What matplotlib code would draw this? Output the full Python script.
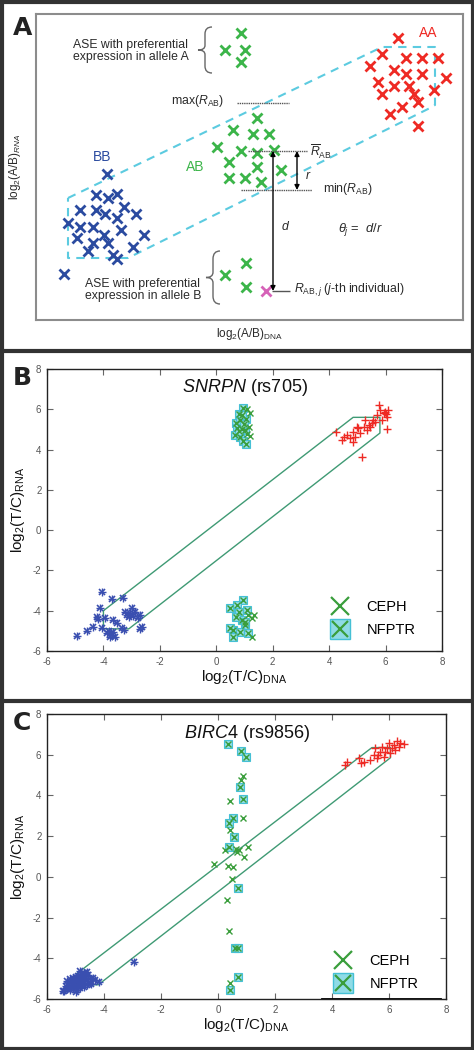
import matplotlib
matplotlib.use("Agg")
import matplotlib.pyplot as plt
from matplotlib.lines import Line2D
from matplotlib.path import Path
from matplotlib.patches import PathPatch
from matplotlib.legend_handler import HandlerTuple

plt.rcParams['font.family'] = ['Liberation Sans', 'DejaVu Sans']
plt.rcParams['mathtext.fontset'] = 'custom'
plt.rcParams['mathtext.rm'] = 'Liberation Sans'
plt.rcParams['mathtext.it'] = 'Liberation Sans:italic'
plt.rcParams['mathtext.bf'] = 'Liberation Sans:bold'
plt.rcParams['axes.unicode_minus'] = False

# ---------------- Panel A (schematic, picture coordinates) ----------------
A_top_x = [241, 225, 245, 241]
A_top_y = [33, 50, 50, 62]
A_aa_x = [398, 382, 370, 406, 422, 438, 394, 406, 422, 446, 378, 394, 409, 382, 414, 434, 418, 402, 390, 418]
A_aa_y = [38, 54, 66, 58, 58, 58, 70, 74, 74, 78, 82, 86, 86, 94, 94, 90, 102, 107, 114, 126]
A_bb_x = [107, 96, 108, 117, 80, 96, 105, 124, 136, 68, 80, 93, 117, 121, 77, 104, 93, 108, 88, 144, 133, 113, 117, 64]
A_bb_y = [174, 195, 198, 194, 210, 210, 214, 207, 214, 223, 227, 227, 218, 230, 238, 235, 243, 243, 251, 235, 247, 255, 259, 274]
A_ab_x = [257, 233, 253, 269, 217, 241, 274, 257, 229, 257, 281, 229, 245, 261]
A_ab_y = [118, 130, 134, 134, 147, 151, 150, 153, 162, 167, 170, 178, 178, 182]
A_low_x = [246, 225, 246]
A_low_y = [263, 275, 287]
A_j_x = [266]
A_j_y = [291]
A_hull_x = [68, 382, 435, 435, 430, 128, 68, 68]
A_hull_y = [198, 47, 47, 105, 108, 258, 258, 198]
A_max_y, A_mean_y, A_min_y = 103, 151, 190

# ---------------- Panel B : SNRPN (rs705) ----------------
B_bb_x = [-4.06, -3.71, -3.32, -4.12, -4.24, -4.18, -3.94, -3.65, -3.53, -4.36, -4.59, -4.93, -4.06, -3.88,
          -3.77, -3.65, -3.35, -3.23, -3.17, -3.00, -2.88, -2.70, -2.76, -2.64, -2.70, -3.10, -3.05, -2.95,
          -3.70, -3.80, -3.60, -3.28]
B_bb_y = [-3.09, -3.44, -3.39, -3.85, -4.33, -4.40, -4.38, -4.46, -4.63, -4.80, -5.01, -5.26, -4.88, -5.12,
          -5.29, -5.04, -4.88, -4.05, -4.21, -3.88, -4.05, -4.21, -4.38, -4.80, -4.93, -4.30, -4.10, -4.25,
          -5.20, -5.00, -5.30, -4.95]
B_aa_x = [4.25, 4.45, 4.63, 4.74, 4.86, 4.92, 5.04, 5.10, 5.22, 5.28, 5.34, 5.45, 5.57, 5.69, 5.75, 5.81,
          5.87, 5.93, 5.99, 6.05, 6.10, 6.05, 5.16, 4.51, 4.86, 4.98, 5.51, 5.40, 5.62, 6.00]
B_aa_y = [4.89, 4.47, 4.72, 4.56, 4.89, 4.64, 5.06, 4.81, 5.13, 5.47, 4.97, 5.13, 5.47, 5.72, 6.21, 5.96,
          5.47, 5.80, 5.88, 5.60, 5.96, 5.00, 3.62, 4.64, 4.39, 5.13, 5.30, 5.20, 5.35, 5.75]
B_ab_x = [0.95, 1.10, 0.80, 1.20, 0.70, 0.85, 1.05, 0.75, 0.90, 1.15, 1.00, 0.65, 0.85, 1.20, 0.95, 1.05,
          0.80, 1.10, 0.90, 0.98,
          0.49, 0.96, 0.73, 1.14, 1.26, 1.02, 0.61, 0.85, 1.14, 1.26, 0.61, 0.49, 1.32, 0.79, 1.08, 0.90,
          0.70, 1.00]
B_ab_y = [6.05, 6.00, 5.75, 5.80, 5.30, 5.45, 5.50, 5.05, 5.00, 5.10, 4.95, 4.70, 4.60, 4.65, 4.45, 4.30,
          4.90, 4.75, 5.70, 5.25,
          -3.88, -3.47, -3.72, -4.21, -4.38, -4.71, -4.96, -5.04, -5.12, -5.29, -5.29, -4.88, -4.20, -4.05,
          -3.96, -4.46, -4.30, -4.55]
B_nf_x = [0.95, 0.80, 0.70, 0.85, 1.05, 0.75, 0.90, 1.00, 0.65, 0.85, 0.95, 1.05, 0.80, 0.90, 0.98,
          0.49, 0.96, 0.73, 1.02, 0.61, 0.85, 1.14, 0.61, 0.49, 0.79, 1.08, 0.90, 0.70, 1.00]
B_nf_y = [6.05, 5.75, 5.30, 5.45, 5.50, 5.05, 5.00, 4.95, 4.70, 4.60, 4.45, 4.30, 4.90, 5.70, 5.25,
          -3.88, -3.47, -3.72, -4.71, -4.96, -5.04, -5.12, -5.29, -4.88, -4.05, -3.96, -4.46, -4.30, -4.55]
B_hull_x = [-4.0, 4.85, 5.8, 5.8, -3.1, -4.0, -4.0]
B_hull_y = [-4.0, 5.6, 5.6, 4.82, -4.9, -4.9, -4.0]

# ---------------- Panel C : BIRC4 (rs9856) ----------------
C_bb_x = [-5.40, -5.30, -5.20, -5.10, -5.00, -4.90, -4.80, -4.70, -4.60, -4.50, -4.40, -5.35, -5.25, -5.15,
          -5.05, -4.95, -4.85, -4.75, -4.65, -4.55, -5.30, -5.20, -5.10, -5.00, -4.90, -4.80, -4.70, -4.60,
          -4.50, -5.20, -5.10, -4.95, -4.85, -4.70, -4.60, -4.75, -4.65, -4.19, -2.96, -4.45, -4.30, -5.45,
          -5.00, -4.85]
C_bb_y = [-5.60, -5.50, -5.55, -5.45, -5.40, -5.35, -5.25, -5.20, -5.10, -5.00, -4.95, -5.35, -5.30, -5.20,
          -5.15, -5.10, -5.05, -4.95, -4.85, -4.80, -5.10, -5.00, -4.95, -4.90, -4.85, -4.75, -4.70, -4.65,
          -5.20, -5.45, -5.35, -5.55, -5.45, -5.40, -5.30, -5.05, -4.95, -5.15, -4.17, -5.25, -5.05, -5.60,
          -5.65, -4.60]
C_aa_x = [4.47, 4.53, 4.93, 5.11, 5.00, 5.46, 5.69, 5.93, 6.16, 6.40, 6.51, 6.28, 5.81, 5.57, 6.05, 5.75,
          5.52, 5.99, 6.22, 5.34, 5.63, 5.87, 6.10, 6.34]
C_aa_y = [5.49, 5.66, 5.82, 5.66, 5.60, 5.99, 6.15, 6.32, 6.49, 6.57, 6.52, 6.65, 5.91, 5.82, 6.07, 6.40,
          6.32, 6.57, 6.24, 5.74, 5.99, 6.15, 6.32, 6.40]
C_ab_x = [0.34, 0.81, 0.98, 0.78, 0.86, 0.53, 0.37, 0.55, 0.37, 0.81, 0.86, 0.43, 0.88, 0.43, 0.26, 0.67,
          0.72, 1.07, 0.90, -0.15, 0.35, 0.51, 0.49, 0.69, 0.32, 0.37, 0.58, 0.69, 0.69, 0.43, 0.43, 0.62]
C_ab_y = [6.51, 6.20, 5.87, 4.43, 3.81, 2.91, 2.66, 1.97, 1.48, 4.76, 4.95, 3.74, 2.88, 2.30, 1.32, 1.24,
          1.30, 1.48, 0.99, 0.63, 0.53, 0.50, -0.12, -0.56, -1.14, -2.66, -3.51, -3.48, -4.90, -5.23, -5.56,
          1.35]
C_nf_x = [0.34, 0.81, 0.98, 0.78, 0.86, 0.53, 0.37, 0.55, 0.37, 0.69, 0.58, 0.69, 0.69, 0.43]
C_nf_y = [6.51, 6.20, 5.87, 4.43, 3.81, 2.91, 2.66, 1.97, 1.48, -0.56, -3.51, -3.48, -4.90, -5.56]
C_hull_x = [-4.95, 5.4, 6.05, 6.05, -4.2, -4.95, -4.95]
C_hull_y = [-4.75, 6.35, 6.35, 5.85, -5.3, -5.3, -4.75]

ticks = [-6, -4, -2, 0, 2, 4, 6, 8]
labels = ['CEPH', 'NFPTR']

# ---------------- colours ----------------
GREEN_A = '#3cb54a'
RED = '#ee2a24'
BLUE_A = '#2b4ba0'
CYAN = '#5ccbe0'
MAG = '#d662b8'
GREEN = '#3a9e3c'
SQ_FACE = '#8fdbe6'
SQ_EDGE = '#45c0d5'
HULL = '#3f9a74'
BLUE = '#3a4fb0'
TXT = '#2a2a2a'
LETTER_FONT = ['Liberation Sans Narrow', 'DejaVu Sans']

W, H = 474, 1050
fig = plt.figure(figsize=(W / 100, H / 100), dpi=100)


def rect(x0, y0, x1, y1):
    return [x0 / W, 1 - y1 / H, (x1 - x0) / W, (y1 - y0) / H]


def fig_line(x0, y0, x1, y1, lw=3, color='#333333'):
    fig.add_artist(Line2D([x0 / W, x1 / W], [1 - y0 / H, 1 - y1 / H], lw=lw, color=color,
                          transform=fig.transFigure, solid_capstyle='butt'))


# outer frame and separators
fig_line(1.5, 0, 1.5, H)
fig_line(W - 1.5, 0, W - 1.5, H)
fig_line(0, 1.5, W, 1.5)
fig_line(0, H - 1.5, W, H - 1.5)
fig_line(0, 350.5, W, 350.5)
fig_line(0, 700.5, W, 700.5)

# ---------------- Panel A ----------------
axA = fig.add_axes(rect(36, 14, 463, 320))
axA.set_xlim(36, 463)
axA.set_ylim(320, 14)
axA.set_xticks([])
axA.set_yticks([])
for s in axA.spines.values():
    s.set_color('#8c8c8c')
    s.set_linewidth(1.5)

mk = dict(marker='x', ls='none', ms=6.5, mew=2)
axA.plot(A_hull_x, A_hull_y, color=CYAN, lw=1.5, ls=(0, (4, 3)))
axA.plot(A_top_x, A_top_y, color=GREEN_A, **mk)
axA.plot(A_aa_x, A_aa_y, color=RED, **mk)
axA.plot(A_bb_x, A_bb_y, color=BLUE_A, **mk)
axA.plot(A_ab_x, A_ab_y, color=GREEN_A, **mk)
axA.plot(A_low_x, A_low_y, color=GREEN_A, **mk)
axA.plot(A_j_x, A_j_y, color=MAG, **mk)

axA.text(428, 33, 'AA', color=RED, fontsize=10, ha='center', va='center')
axA.text(102, 157, 'BB', color=BLUE_A, fontsize=10, ha='center', va='center')
axA.text(195, 167, 'AB', color=GREEN_A, fontsize=10, ha='center', va='center')

# reference lines
axA.hlines(A_max_y, 237, 289, color='#555555', lw=1, ls=(0, (1, 0.6)))
axA.hlines(A_mean_y, 248, 307, color='#555555', lw=1, ls=(0, (1, 0.6)))
axA.hlines(A_min_y, 241, 312, color='#555555', lw=1, ls=(0, (1, 0.6)))
axA.hlines(A_j_y[0], A_j_x[0] + 6, 290, color='#555555', lw=1)
axA.annotate('', xy=(297, A_mean_y), xytext=(297, A_min_y),
             arrowprops=dict(arrowstyle='<|-|>', color='black', lw=1, mutation_scale=7, shrinkA=0, shrinkB=0))
axA.annotate('', xy=(273, A_mean_y), xytext=(273, A_j_y[0]),
             arrowprops=dict(arrowstyle='<|-|>', color='black', lw=1, mutation_scale=7, shrinkA=0, shrinkB=0))

fsA = 8.8
axA.text(224, 101, r'max($R_{\mathrm{AB}}$)', fontsize=fsA, ha='right', va='center', color=TXT)
axA.text(310, 152, r'$\overline{R}_{\mathrm{AB}}$', fontsize=fsA, ha='left', va='center', color=TXT)
axA.text(323, 189, r'min($R_{\mathrm{AB}}$)', fontsize=fsA, ha='left', va='center', color=TXT)
axA.text(308, 176, r'$r$', fontsize=fsA, ha='center', va='center', color=TXT)
axA.text(286, 226, r'$d$', fontsize=fsA, ha='center', va='center', color=TXT)
axA.text(338, 230, r'$\theta_j$ =  $d/r$', fontsize=fsA + 0.5, ha='left', va='center', color=TXT)
axA.text(294, 290, r'$R_{\mathrm{AB},j}$ ($j$-th individual)', fontsize=fsA, ha='left', va='center', color=TXT)
axA.text(73, 51, 'ASE with preferential\nexpression in allele A', fontsize=fsA, ha='left', va='center',
         color=TXT, linespacing=1.1)
axA.text(85, 290, 'ASE with preferential\nexpression in allele B', fontsize=fsA, ha='left', va='center',
         color=TXT, linespacing=1.1)


def brace(ax, xtip, y0, y1, w):
    ym = (y0 + y1) / 2
    h = y1 - y0
    xm = xtip + w / 2
    verts = [(xtip + w, y0), (xm, y0), (xm, y0 + h * 0.15),
             (xm, ym - h * 0.1),
             (xm, ym), (xtip, ym),
             (xm, ym), (xm, ym + h * 0.1),
             (xm, y1 - h * 0.15),
             (xm, y1), (xtip + w, y1)]
    codes = [Path.MOVETO, Path.CURVE3, Path.CURVE3, Path.LINETO, Path.CURVE3, Path.CURVE3,
             Path.CURVE3, Path.CURVE3, Path.LINETO, Path.CURVE3, Path.CURVE3]
    ax.add_patch(PathPatch(Path(verts, codes), fill=False, color='#666666', lw=1))


brace(axA, 198, 27, 73, 14)
brace(axA, 206, 251, 304, 14)

axA.set_xlabel(r'log$_2$(A/B)$_{\mathrm{DNA}}$', fontsize=8.5, color=TXT, labelpad=4)
axA.set_ylabel(r'log$_2$(A/B)$_{RNA}$', fontsize=8.5, color=TXT, labelpad=9)
fig.text(13 / W, 1 - 28 / H, 'A', fontsize=18, fontweight='bold', ha='left', va='center',
         family=LETTER_FONT, color='#222222')


# ---------------- Panels B and C ----------------
def scatter_panel(ax, bb_x, bb_y, aa_x, aa_y, ab_x, ab_y, nf_x, nf_y, hull_x, hull_y, title_it, title_rest,
                  letter, letter_y, leg_y):
    ax.set_xlim(-6, 8)
    ax.set_ylim(-6, 8)
    ax.plot(hull_x, hull_y, color=HULL, lw=1.0, zorder=2)
    ax.plot(nf_x, nf_y, ls='none', marker='s', ms=6, mfc=SQ_FACE, mec=SQ_EDGE, mew=0.8, zorder=3)
    ax.plot(ab_x, ab_y, ls='none', marker='x', ms=5, mew=1.0, color=GREEN, zorder=4)
    ax.plot(bb_x, bb_y, ls='none', marker='x', ms=5, mew=1.2, color=BLUE, zorder=4)
    ax.plot(bb_x, bb_y, ls='none', marker='+', ms=6, mew=1.0, color=BLUE, zorder=4)
    ax.plot(aa_x, aa_y, ls='none', marker='+', ms=6, mew=1.0, color=RED, zorder=4)
    ax.set_xticks(ticks)
    ax.set_yticks(ticks)
    ax.tick_params(direction='in', length=4, width=0.8, colors='#666666', labelsize=7, top=True, right=True,
                   pad=4)
    for lab in ax.get_xticklabels() + ax.get_yticklabels():
        lab.set_color('#555555')
    for s in ax.spines.values():
        s.set_color('#222222')
        s.set_linewidth(1.0)
    ax.text(0.5, 0.933, r'$\mathit{' + title_it + '}$ ' + title_rest, transform=ax.transAxes, fontsize=13,
            ha='center', va='center', color='#111111')
    ax.set_xlabel(r'log$_2$(T/C)$_{\mathrm{DNA}}$', fontsize=11, color='#111111', labelpad=1)
    ax.set_ylabel(r'log$_2$(T/C)$_{\mathrm{RNA}}$', fontsize=11, color='#111111', labelpad=4)
    h1 = Line2D([], [], ls='none', marker='x', ms=13, mew=1.6, color=GREEN)
    h2a = Line2D([], [], ls='none', marker='s', ms=14, mfc=SQ_FACE, mec=SQ_EDGE, mew=1.0)
    h2b = Line2D([], [], ls='none', marker='x', ms=12, mew=1.6, color=GREEN)
    ax.legend([h1, (h2a, h2b)], labels, handler_map={tuple: HandlerTuple(ndivide=1)},
              loc='center left', bbox_to_anchor=(0.695, leg_y), frameon=False, fontsize=10.5,
              handlelength=1.6, handletextpad=1.0, labelspacing=0.6, borderpad=0)
    fig.text(13 / W, 1 - letter_y / H, letter, fontsize=18, fontweight='bold', ha='left', va='center',
             family=LETTER_FONT, color='#222222')


axB = fig.add_axes(rect(47, 369, 442, 651))
scatter_panel(axB, B_bb_x, B_bb_y, B_aa_x, B_aa_y, B_ab_x, B_ab_y, B_nf_x, B_nf_y, B_hull_x, B_hull_y,
              'SNRPN', '(rs705)', 'B', 378, 0.115)

axC = fig.add_axes(rect(47, 714, 446, 999))
scatter_panel(axC, C_bb_x, C_bb_y, C_aa_x, C_aa_y, C_ab_x, C_ab_y, C_nf_x, C_nf_y, C_hull_x, C_hull_y,
              'BIRC4', '(rs9856)', 'C', 723, 0.093)
axC.axhline(-6, xmin=0.69, xmax=0.985, color='black', lw=2, zorder=5)

fig.savefig('out.png', dpi=100)
